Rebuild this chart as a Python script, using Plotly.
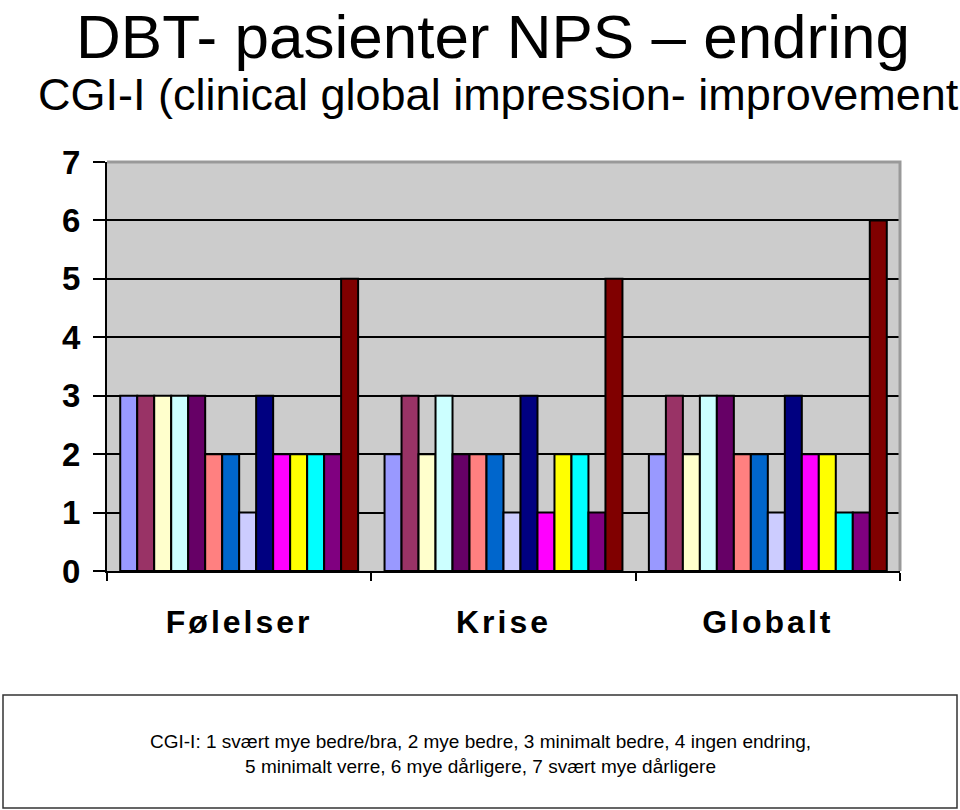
import plotly.graph_objects as go

categories = ["Følelser", "Krise", "Globalt"]

series_names = [f"Pasient {i}" for i in range(1, 15)]

series_colors = ["#9999FF", "#993366", "#FFFFCC", "#CCFFFF", "#660066", "#FF8080",
                 "#0066CC", "#CCCCFF", "#000080", "#FF00FF", "#FFFF00", "#00FFFF",
                 "#800080", "#800000"]

# values per series: [Følelser, Krise, Globalt]
series_values = [
    [3, 2, 2],
    [3, 3, 3],
    [3, 2, 2],
    [3, 3, 3],
    [3, 2, 3],
    [2, 2, 2],
    [2, 2, 2],
    [1, 1, 1],
    [3, 3, 3],
    [2, 1, 2],
    [2, 2, 2],
    [2, 2, 1],
    [2, 1, 1],
    [5, 5, 6],
]

y_ticks = [0, 1, 2, 3, 4, 5, 6, 7]

title_text = "DBT- pasienter NPS – endring"
subtitle_text = "CGI-I (clinical global impression- improvement"
note_lines = ["CGI-I: 1 svært mye bedre/bra, 2 mye bedre, 3 minimalt bedre, 4 ingen endring,",
              "5 minimalt verre, 6 mye dårligere, 7 svært mye dårligere"]

fig = go.Figure()
for name, vals, col in zip(series_names, series_values, series_colors):
    fig.add_trace(go.Bar(x=categories, y=vals, name=name,
                         marker=dict(color=col, line=dict(color="black", width=2))))

W, H = 960, 810
L, R, T, B = 107, 60, 162, 239
PW, PH = W - L - R, H - T - B

fig.update_layout(
    width=W, height=H,
    margin=dict(l=L, r=R, t=T, b=B, pad=0),
    paper_bgcolor="white",
    plot_bgcolor="#CCCCCC",
    barmode="group",
    bargap=0.1,
    bargroupgap=0,
    showlegend=False,
    font=dict(family="Liberation Sans, Arial, sans-serif", color="black"),
)

fig.update_xaxes(
    showline=True, linecolor="black", linewidth=2,
    ticks="outside", tickson="boundaries", ticklen=8, tickwidth=2, tickcolor="black",
    tickfont=dict(family="Liberation Sans, Arial, sans-serif", size=32, color="black", weight="bold"),
    ticklabelstandoff=22,
    showgrid=False,
)
fig.update_yaxes(
    range=[0, 7], tickvals=y_ticks, ticktext=[str(v) for v in y_ticks],
    showline=True, linecolor="black", linewidth=2,
    ticks="outside", ticklen=12, tickwidth=2, tickcolor="black",
    tickfont=dict(family="Liberation Sans, Arial, sans-serif", size=33, color="black", weight="bold"),
    ticklabelstandoff=6,
    showgrid=True, gridcolor="black", gridwidth=2,
    zeroline=False,
)

# gray top/right plot border
fig.add_shape(type="path", xref="paper", yref="paper",
              path="M 0 1 L 1 1 L 1 0", line=dict(color="#999999", width=3), layer="above")

# title and subtitle
fig.add_annotation(text=title_text, xref="paper", yref="paper", x=(493 - L) / PW,
                   y=1 + (T - 37) / PH, xanchor="center", yanchor="middle",
                   showarrow=False,
                   font=dict(family="Liberation Sans, Arial, sans-serif", size=62, color="black"))
fig.add_annotation(text=subtitle_text, xref="paper", yref="paper", x=(36 - L) / PW,
                   y=1 + (T - 95) / PH, xanchor="left", yanchor="middle",
                   showarrow=False,
                   font=dict(family="Liberation Sans, Arial, sans-serif", size=45, color="black"))

# note box
fig.add_shape(type="rect", xref="paper", yref="paper",
              x0=(3 - L) / PW, x1=(957 - L) / PW,
              y0=-(808 - 571) / PH, y1=-(695 - 571) / PH,
              line=dict(color="#333333", width=1.5), fillcolor="white")
fig.add_annotation(text="<br>".join(note_lines), xref="paper", yref="paper",
                   x=(480 - L) / PW, y=-(754 - 571) / PH,
                   xanchor="center", yanchor="middle", showarrow=False, align="center",
                   font=dict(family="Liberation Sans, Arial, sans-serif", size=19, color="black"))

post = (
    "document.body.style.margin='0';"
    "document.querySelectorAll('.xtick text').forEach(function(t){t.style.letterSpacing='3px';});"
)

fig.write_html("out.html", post_script=post, config={"displayModeBar": False})
